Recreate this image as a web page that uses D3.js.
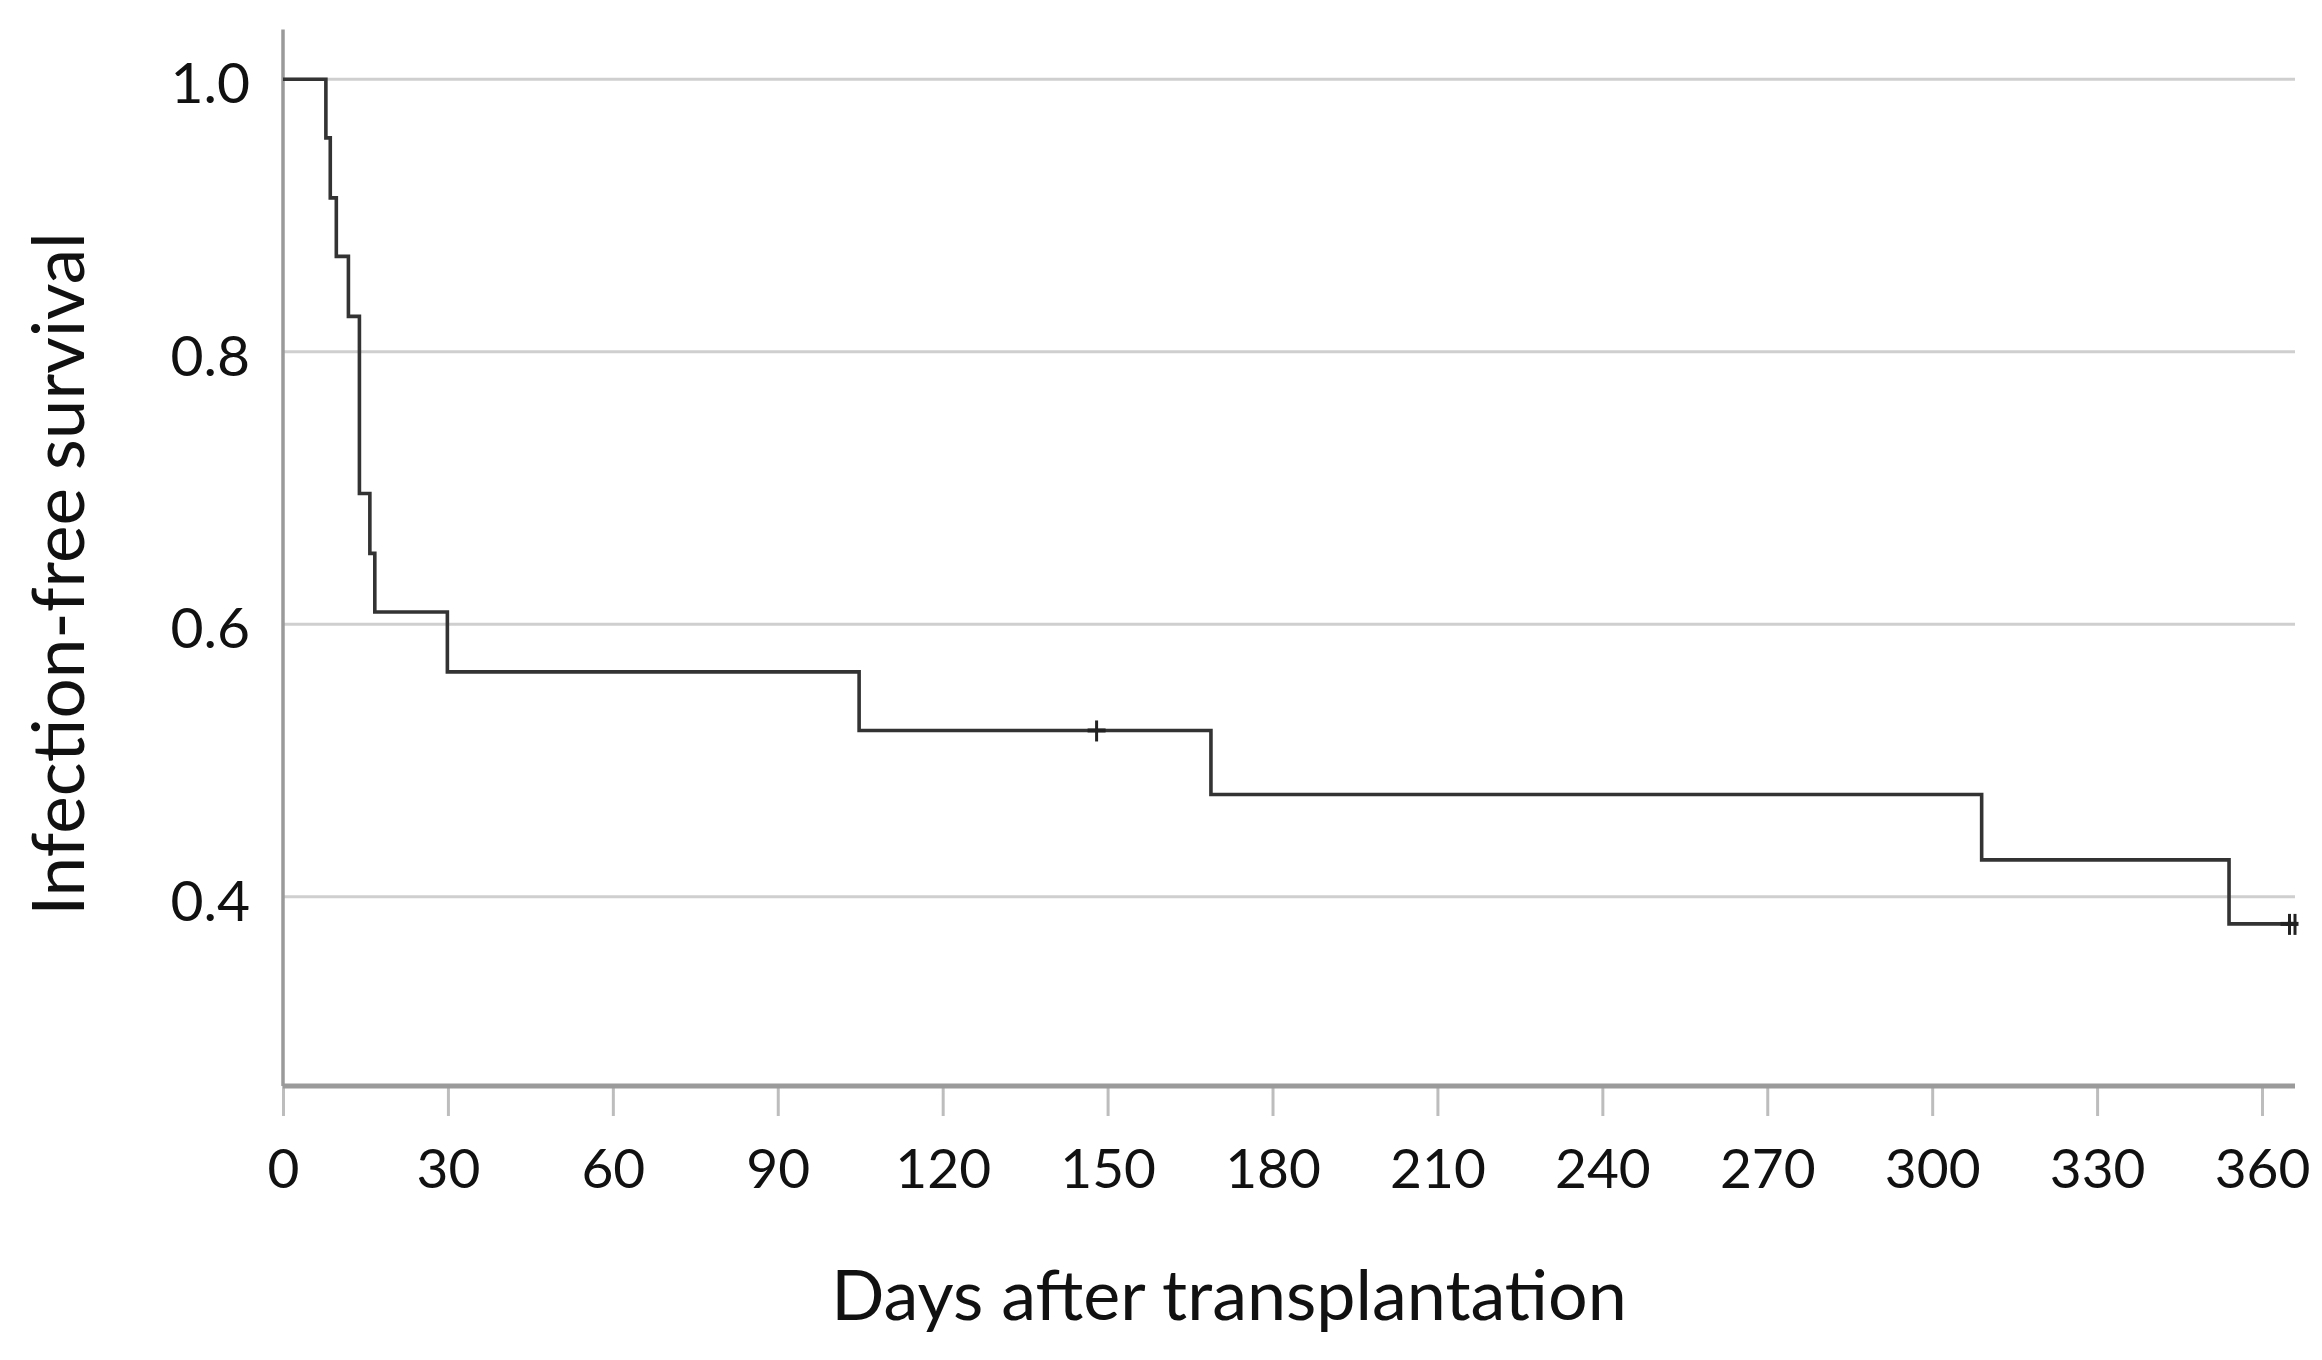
<!DOCTYPE html>
<html>
<head>
<meta charset="utf-8">
<script src="https://cdn.jsdelivr.net/npm/d3@7"></script>
<style>
  html, body { margin: 0; padding: 0; background: #fff; }
  svg { display: block; }
  text { font-family: Lato, "Open Sans", sans-serif; fill: #111; }
</style>
</head>
<body>
<svg id="chart" width="2322" height="1360"></svg>
<script>
// Kaplan-Meier steps
var stepDays = [0, 7.8, 8.6, 9.7, 11.9, 13.9, 15.8, 16.7, 29.9, 104.8, 168.8, 309, 354, 366];
var stepSurvival = [1.0, 0.957, 0.913, 0.870, 0.826, 0.696, 0.652, 0.609, 0.565, 0.522, 0.475, 0.427, 0.380, 0.380];

// censored observations
var censorDays = [148, 365, 366];
var censorSurvival = [0.522, 0.380, 0.380];

var xTicks = [0, 30, 60, 90, 120, 150, 180, 210, 240, 270, 300, 330, 360];
var yTicks = [0.4, 0.6, 0.8, 1.0];

var svg = d3.select("#chart");

// plot edges (don't call these top/left, window.top is read-only)
var plotL = 283, plotR = 2295, plotT = 29.6, plotB = 1086;

var x = d3.scaleLinear().domain([0, 366]).range([plotL, plotR]);
var y = d3.scaleLinear().domain([0.261, 1.0365]).range([plotB, plotT]);

// gridlines
svg.append("g")
  .selectAll("line")
  .data(yTicks)
  .enter().append("line")
    .attr("x1", plotL)
    .attr("x2", plotR)
    .attr("y1", function(d) { return y(d); })
    .attr("y2", function(d) { return y(d); })
    .attr("stroke", "#cfcfcf")
    .attr("stroke-width", 3);

// y tick labels
svg.append("g")
  .selectAll("text")
  .data(yTicks)
  .enter().append("text")
    .attr("x", plotL - 33)
    .attr("y", function(d) { return y(d) + 24; })
    .attr("text-anchor", "end")
    .style("font-size", "57px")
    .text(function(d) { return d3.format(".1f")(d); });

// x axis with ticks hanging below
var xAxis = d3.axisBottom(x)
  .tickValues(xTicks)
  .tickSize(30)
  .tickFormat(d3.format("d"));

var gx = svg.append("g")
  .attr("transform", "translate(0," + plotB + ")")
  .call(xAxis);

gx.select(".domain").remove();
gx.selectAll(".tick line")
  .attr("stroke", "#bdbdbd")
  .attr("stroke-width", 3);
gx.selectAll(".tick text")
  .attr("dy", 0)
  .attr("y", 102)
  .style("font-size", "55px")
  .style("font-family", "Lato, 'Open Sans', sans-serif")
  .attr("fill", "#111");

// axis lines
svg.append("line")
  .attr("x1", plotL).attr("x2", plotR)
  .attr("y1", plotB).attr("y2", plotB)
  .attr("stroke", "#9a9a9a")
  .attr("stroke-width", 5);

svg.append("line")
  .attr("x1", plotL).attr("x2", plotL)
  .attr("y1", plotT).attr("y2", plotB)
  .attr("stroke", "#9a9a9a")
  .attr("stroke-width", 3.5);

// survival curve
var points = stepDays.map(function(d, i) { return [d, stepSurvival[i]]; });

var line = d3.line()
  .x(function(d) { return x(d[0]); })
  .y(function(d) { return y(d[1]); })
  .curve(d3.curveStepAfter);

svg.append("path")
  .datum(points)
  .attr("d", line)
  .attr("fill", "none")
  .attr("stroke", "#333")
  .attr("stroke-width", 3.6);

// censor marks
var cens = svg.append("g")
  .selectAll("g")
  .data(censorDays.map(function(d, i) { return [d, censorSurvival[i]]; }))
  .enter().append("g")
    .attr("transform", function(d) { return "translate(" + x(d[0]) + "," + y(d[1]) + ")"; });

cens.append("line")
  .attr("x1", 0).attr("x2", 0)
  .attr("y1", -10).attr("y2", 11)
  .attr("stroke", "#222")
  .attr("stroke-width", 3);

cens.append("line")
  .attr("x1", -9).attr("x2", function(d) { return d[0] >= 366 ? 2 : 9; })
  .attr("y1", 0).attr("y2", 0)
  .attr("stroke", "#222")
  .attr("stroke-width", 4);

// axis titles
svg.append("text")
  .attr("x", 1229)
  .attr("y", 1320)
  .attr("text-anchor", "middle")
  .style("font-size", "70px")
  .text("Days after transplantation");

svg.append("text")
  .attr("transform", "translate(84,574) rotate(-90)")
  .attr("text-anchor", "middle")
  .style("font-size", "71px")
  .text("Infection-free survival");
</script>
</body>
</html>
